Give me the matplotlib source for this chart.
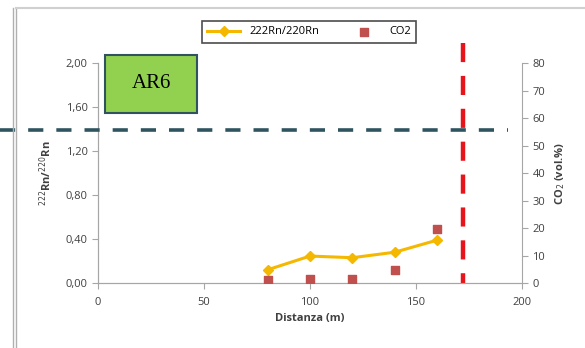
import matplotlib
matplotlib.use("Agg")
from matplotlib import pyplot as plt
from matplotlib.lines import Line2D
from matplotlib.patches import Rectangle

# data
distance = [80, 100, 120, 140, 160]
rn_ratio = [0.12, 0.245, 0.23, 0.28, 0.39]
co2 = [1.0, 1.5, 1.5, 4.8, 19.5]
left_ticks = [0.0, 0.4, 0.8, 1.2, 1.6, 2.0]
left_labels = ["0,00", "0,40", "0,80", "1,20", "1,60", "2,00"]
right_ticks = [0, 10, 20, 30, 40, 50, 60, 70, 80]
x_ticks = [0, 50, 100, 150, 200]
fault_x = 172

plt.rcParams["font.family"] = ["Open Sans", "DejaVu Sans"]
grey = "#a6a6a6"
txt = "#404040"

fig = plt.figure(figsize=(5.85, 3.48), dpi=100)
ax = fig.add_axes([0.1675, 0.1868, 0.7248, 0.632])
ax2 = ax.twinx()

# series
ax.plot(distance, rn_ratio, color="#f5b800", lw=2.2, marker="D", ms=5,
        label="222Rn/220Rn", zorder=3)
ax2.scatter(distance, co2, marker="s", s=32, color="#c0504d", zorder=3,
            label="CO2")

ax.set_xlim(0, 200)
ax.set_ylim(0, 2.0)
ax2.set_ylim(0, 80)
ax.set_xticks(x_ticks)
ax.set_yticks(left_ticks, left_labels)
ax2.set_yticks(right_ticks)

for a in (ax, ax2):
    for s in a.spines.values():
        s.set_color(grey)
    a.spines["top"].set_visible(False)
    a.tick_params(colors=grey, labelcolor=txt, labelsize=8, length=4)
ax.spines["right"].set_visible(False)
ax.tick_params(axis="x", pad=6)

ax.set_xlabel("Distanza (m)", fontsize=8, fontweight="bold", color=txt, labelpad=4)
ax.set_ylabel("$^{222}$Rn/$^{220}$Rn", fontsize=8, fontweight="bold", color=txt, labelpad=8)
ax2.set_ylabel("CO$_2$ (vol.%)", fontsize=8, fontweight="bold", color=txt, labelpad=6)

# red dashed fault line (drawn top-down) and dark dashed threshold
ax.plot([fault_x, fault_x], [2.18, 0], color="#e8141c", lw=3.2,
        dashes=(4.3, 3.1), clip_on=False, zorder=4)
fig.add_artist(Line2D([0, 0.868], [1 - 130 / 348] * 2, color="#2f5460",
                      lw=2.6, dashes=(4.2, 3.6)))

# AR6 label box
fig.add_artist(Rectangle((105 / 585, 1 - 113 / 348), 92 / 585, 58 / 348,
                         facecolor="#92d050", edgecolor="#31535f", lw=1.5))
fig.text(151 / 585, 1 - 84 / 348, "AR6", ha="center", va="center",
         fontsize=15, family=["Liberation Serif", "DejaVu Serif"])

# legend
h1, l1 = ax.get_legend_handles_labels()
h2, l2 = ax2.get_legend_handles_labels()
leg = fig.legend(h1 + h2, l1 + l2, loc="center", ncol=2, fontsize=8,
                 bbox_to_anchor=(309 / 585, 1 - 32 / 348), frameon=True,
                 fancybox=False, edgecolor="#202020", handlelength=3,
                 columnspacing=2.5, borderpad=0.5)
leg.get_frame().set_linewidth(1.2)

# frame borders of the screenshot
fig.add_artist(Line2D([13 / 585, 13 / 585], [0, 1 - 8 / 348], color="#b0b0b0", lw=1))
fig.add_artist(Line2D([16 / 585, 16 / 585], [0, 1 - 8 / 348], color="#b0b0b0", lw=1))
fig.add_artist(Line2D([16 / 585, 1], [1 - 8 / 348] * 2, color="#d0d0d0", lw=1.5))

fig.savefig("out.png", dpi=100)
